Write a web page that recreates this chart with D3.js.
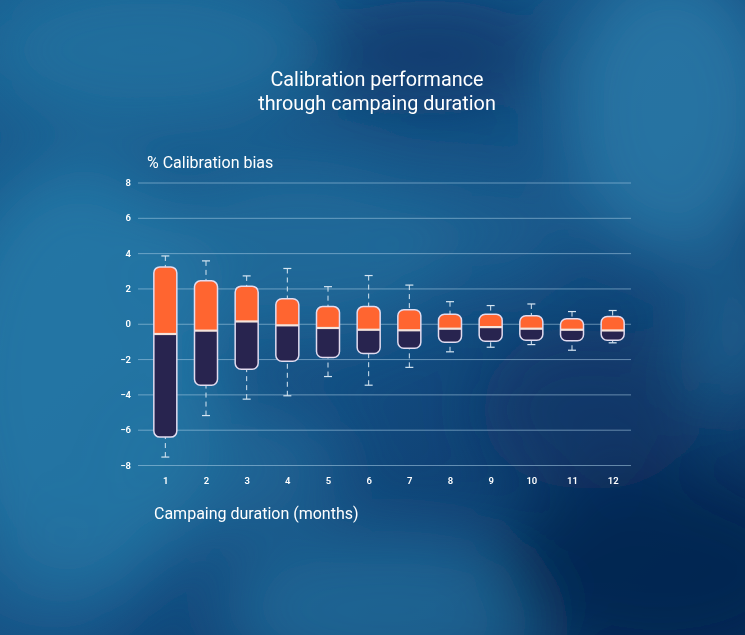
<!DOCTYPE html>
<html>
<head>
<meta charset="utf-8">
<script src="https://cdn.jsdelivr.net/npm/d3@7"></script>
<style>
  html, body { margin: 0; padding: 0; background: #0e3d6c; }
  svg { display: block; }
  text { font-family: Roboto, "Noto Sans", sans-serif; fill: #ffffff; }
</style>
</head>
<body>
<svg id="chart"></svg>
<script>
// chart values
var months = ["1", "2", "3", "4", "5", "6", "7", "8", "9", "10", "11", "12"];
var whiskerHigh = [3.84, 3.56, 2.71, 3.13, 2.10, 2.73, 2.19, 1.25, 1.03, 1.12, 0.69, 0.75];
var boxHigh     = [3.22, 2.43, 2.13, 1.42, 0.97, 0.97, 0.79, 0.54, 0.54, 0.45, 0.28, 0.41];
var medians     = [-0.58, -0.39, 0.13, -0.09, -0.24, -0.34, -0.37, -0.28, -0.19, -0.28, -0.34, -0.38];
var boxLow      = [-6.42, -3.48, -2.58, -2.12, -1.91, -1.69, -1.39, -1.05, -0.99, -0.94, -0.96, -0.94];
var whiskerLow  = [-7.55, -5.20, -4.27, -4.08, -2.99, -3.48, -2.47, -1.59, -1.33, -1.18, -1.50, -1.08];
var yTicks = [-8, -6, -4, -2, 0, 2, 4, 6, 8];

var titleLines = ["Calibration performance", "through campaing duration"];
var yTitle = "% Calibration bias";
var xTitle = "Campaing duration (months)";

var W = 745, H = 635;

var svg = d3.select("#chart").attr("width", W).attr("height", H);
var defs = svg.append("defs");

// ---- background: sky with soft clouds ----
var bg = defs.append("linearGradient").attr("id", "sky")
    .attr("x1", 0).attr("y1", 0).attr("x2", 1).attr("y2", 1);
bg.append("stop").attr("offset", "0%").attr("stop-color", "#185f91");
bg.append("stop").attr("offset", "55%").attr("stop-color", "#134c80");
bg.append("stop").attr("offset", "100%").attr("stop-color", "#0a2c5c");

defs.append("filter").attr("id", "soft")
    .attr("filterUnits", "userSpaceOnUse")
    .attr("x", -200).attr("y", -200).attr("width", W + 400).attr("height", H + 400)
    .append("feGaussianBlur").attr("stdDeviation", 34);

svg.append("rect").attr("width", W).attr("height", H).attr("fill", "url(#sky)");

// decorative cloud blobs [cx, cy, rx, ry, colour, opacity]
var clouds = [
    [80, 380, 140, 220, "#2a80ad", 0.75],
    [150, 50, 170, 80, "#2a7aa6", 0.6],
    [670, 110, 110, 150, "#2b80ad", 0.75],
    [300, 250, 150, 90, "#2878a5", 0.6],
    [390, 610, 170, 80, "#2a7aa6", 0.6],
    [430, 55, 120, 55, "#0c376a", 0.75],
    [660, 570, 160, 100, "#072350", 0.85],
    [590, 410, 110, 80, "#0b3163", 0.6],
    [735, 330, 50, 80, "#2a7ba7", 0.5],
    [230, 470, 110, 70, "#2475a2", 0.55],
    [480, 230, 90, 60, "#2370a0", 0.45],
    [40, 580, 90, 60, "#1f6a9a", 0.5]
];
svg.append("g").attr("filter", "url(#soft)")
    .selectAll("ellipse").data(clouds).enter().append("ellipse")
    .attr("cx", function(d) { return d[0]; })
    .attr("cy", function(d) { return d[1]; })
    .attr("rx", function(d) { return d[2]; })
    .attr("ry", function(d) { return d[3]; })
    .attr("fill", function(d) { return d[4]; })
    .attr("opacity", function(d) { return d[5]; });

// ---- scales ----
var x = d3.scalePoint().domain(months).range([145, 633]).padding(0.5);
var y = d3.scaleLinear().domain([-8, 8]).range([465, 182.5]);
var boxW = 23;

// ---- titles ----
svg.append("text")
    .attr("x", 377).attr("y", 86)
    .attr("text-anchor", "middle")
    .style("font-size", "19.8px")
    .selectAll("tspan").data(titleLines).enter().append("tspan")
    .attr("x", 377)
    .attr("dy", function(d, i) { return i === 0 ? 0 : 24; })
    .text(function(d) { return d; });

svg.append("text")
    .attr("x", 147).attr("y", 168)
    .style("font-size", "16px")
    .text(yTitle);

svg.append("text")
    .attr("x", 154).attr("y", 519)
    .style("font-size", "16px")
    .text(xTitle);

// ---- y axis: grid lines + labels ----
var yAxis = svg.append("g")
    .attr("transform", "translate(138,0)")
    .call(d3.axisLeft(y).tickValues(yTicks).tickSize(-493).tickPadding(7));
yAxis.select(".domain").remove();
yAxis.selectAll(".tick line")
    .attr("stroke", "#a9cde6").attr("stroke-opacity", 0.55);
yAxis.selectAll(".tick text")
    .style("font-family", "Roboto, sans-serif")
    .style("font-size", "9.5px").style("font-weight", 600)
    .attr("fill", "#ffffff");

// ---- x axis labels ----
var xAxis = svg.append("g")
    .attr("transform", "translate(0,473)")
    .call(d3.axisBottom(x).tickSize(0).tickPadding(4));
xAxis.select(".domain").remove();
xAxis.selectAll(".tick text")
    .style("font-family", "Roboto, sans-serif")
    .style("font-size", "9.5px").style("font-weight", 600)
    .attr("fill", "#ffffff");

// ---- box plots ----
var boxes = months.map(function(m, i) {
    return { m: m, wh: whiskerHigh[i], q3: boxHigh[i], med: medians[i], q1: boxLow[i], wl: whiskerLow[i], i: i };
});

var g = svg.append("g").attr("class", "boxes");

boxes.forEach(function(d) {
    var cx = x(d.m), x0 = cx - boxW / 2;
    var clipId = "clip" + d.i;

    defs.append("clipPath").attr("id", clipId)
        .append("rect")
        .attr("x", x0).attr("y", y(d.q3))
        .attr("width", boxW).attr("height", y(d.q1) - y(d.q3))
        .attr("rx", 6).attr("ry", 6);

    var bx = g.append("g");

    // whiskers (dashed) with caps
    [[d.wh, d.q3], [d.wl, d.q1]].forEach(function(w) {
        bx.append("line")
            .attr("x1", cx).attr("x2", cx)
            .attr("y1", y(w[0])).attr("y2", y(w[1]))
            .attr("stroke", "#d6e6f2").attr("stroke-width", 1)
            .attr("stroke-dasharray", "5,4");
        bx.append("line")
            .attr("x1", cx - 4).attr("x2", cx + 4)
            .attr("y1", y(w[0])).attr("y2", y(w[0]))
            .attr("stroke", "#d6e6f2").attr("stroke-width", 1.2);
    });

    var inner = bx.append("g").attr("clip-path", "url(#" + clipId + ")");
    inner.append("rect")
        .attr("x", x0).attr("y", y(d.q3))
        .attr("width", boxW).attr("height", y(d.med) - y(d.q3))
        .attr("fill", "#ff6530");
    inner.append("rect")
        .attr("x", x0).attr("y", y(d.med))
        .attr("width", boxW).attr("height", y(d.q1) - y(d.med))
        .attr("fill", "#28244f");

    bx.append("line")
        .attr("x1", x0).attr("x2", x0 + boxW)
        .attr("y1", y(d.med)).attr("y2", y(d.med))
        .attr("stroke", "#f4e4dc").attr("stroke-width", 2.2);

    bx.append("rect")
        .attr("x", x0).attr("y", y(d.q3))
        .attr("width", boxW).attr("height", y(d.q1) - y(d.q3))
        .attr("rx", 6).attr("ry", 6)
        .attr("fill", "none")
        .attr("stroke", "#e2dcf0").attr("stroke-width", 1.5);
});
</script>
</body>
</html>
